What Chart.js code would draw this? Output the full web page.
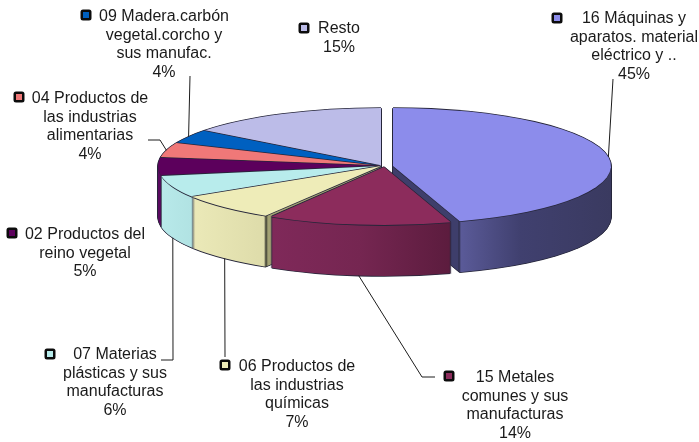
<!DOCTYPE html>
<html>
<head>
<meta charset="utf-8">
<style>
  html, body { margin: 0; padding: 0; background: #fff; }
  canvas { display: block; filter: blur(0.35px); }
</style>
<script src="https://cdn.jsdelivr.net/npm/chart.js@4/dist/chart.umd.min.js"></script>
</head>
<body>
<canvas id="tartaChart" width="699" height="442"></canvas>
<script>
const categorias = ["16 Máquinas", "15 Metales", "06 Productos", "07 Materias", "02 Productos", "04 Productos", "09 Madera", "Resto"];
const valores = [45.0, 13.6, 7.4, 6.2, 5.0, 4.2, 3.9, 14.6];
const colores = ["#8c8ceb", "#8c2c5c", "#eeecb8", "#b8ecec", "#5c005c", "#f07878", "#0060c0", "#bcbce8"];
const textos = [
  ["16 Máquinas y", "aparatos. material", "eléctrico y .."],
  ["15 Metales", "comunes y sus", "manufacturas"],
  ["06 Productos de", "las industrias", "químicas"],
  ["07 Materias", "plásticas y sus", "manufacturas"],
  ["02 Productos del", "reino vegetal"],
  ["04 Productos de", "las industrias", "alimentarias"],
  ["09 Madera.carbón", "vegetal.corcho y", "sus manufac."],
  ["Resto"],
];

// layout: centro de cada porción, elipse y grosor
const centros = [[393, 166], [384, 167], [381, 166], [381, 166], [381, 166], [381, 166], [381, 166], [381, 166]];
const radiosX = [218, 218, 223, 223, 223, 223, 223, 223];
const radioY = 58;
const grosor = 51;
const ordenDibujo = [7, 6, 5, 4, 0, 3, 2, 1];
const oscuro = "#26263a";

// degradado de la pared: [x en pantalla, color]
const paredes = [
  [[393, "#3e3e6b"], [458, "#3e3e6b"], [459, "#2a2a44"], [461, "#5a5a98"], [520, "#40406f"], [611, "#3a3a60"]],
  [[265, "#80295a"], [360, "#752651"], [450, "#5c1c3e"]],
  [[192, "#ebe9b8"], [264, "#dedcaa"], [266, "#3a3a30"], [268, "#a3a274"], [275, "#a3a274"]],
  [[160, "#b8e9ea"], [195, "#b0e2e2"]],
  [[157, "#5a0a60"], [175, "#5a0a60"]],
  [[157, "#c06060"], [180, "#c06060"]],
  [[170, "#004c98"], [210, "#004c98"]],
  [[200, "#9090b8"], [381, "#9090b8"]],
];

// texto: centro x, y de la primera línea, cuadrito, codo de la guía
const posTexto = [[634, 19], [515, 378], [297, 367], [115, 355], [85, 235], [90, 99], [164, 17], [339, 29]];
const posCuadro = [[557, 18], [449, 376], [225, 365], [50, 354], [12, 233], [19, 97], [86, 15], [304, 28]];
const guias = [
  [[613, 79]],
  [[435, 377], [422, 377]],
  [[225, 357]],
  [[161, 360], [173, 360]],
  null,
  [[148, 140], [160, 140]],
  [[190, 76]],
  null,
];
const guiaAbajo = [false, true, true, true, false, false, false, false];

function pintar(ctx, arc, i, relleno, dx, dy) {
  const esc = arc.outerRadius;
  const opts = arc.options;
  ctx.save();
  ctx.translate(centros[i][0] + dx, centros[i][1] + dy);
  ctx.scale(radiosX[i] / esc, radioY / esc);
  ctx.translate(-arc.x, -arc.y);
  arc.options = Object.assign({}, opts, { backgroundColor: relleno, borderWidth: 0 });
  arc.draw(ctx);
  arc.options = opts;
  ctx.restore();
}

function gradientePared(ctx, arc, i) {
  const esc = arc.outerRadius / radiosX[i];
  const stops = paredes[i];
  const x0 = stops[0][0];
  const x1 = stops[stops.length - 1][0];
  const local = (x) => arc.x + (x - centros[i][0]) * esc;
  const g = ctx.createLinearGradient(local(x0), 0, local(x1), 0);
  stops.forEach(([x, c]) => g.addColorStop((x - x0) / (x1 - x0), c));
  return g;
}

const tarta3d = {
  id: "tarta3d",
  beforeDatasetsDraw(chart) {
    const ctx = chart.ctx;
    const arcos = chart.getDatasetMeta(0).data;
    ordenDibujo.forEach((i) => {
      const arc = arcos[i];
      // contorno oscuro
      for (let d = 0; d <= grosor; d += 1) {
        pintar(ctx, arc, i, oscuro, -0.8, d);
        pintar(ctx, arc, i, oscuro, 0.8, d);
      }
      pintar(ctx, arc, i, oscuro, 0, grosor + 0.8);
      pintar(ctx, arc, i, oscuro, 0, -0.8);
      // pared
      const g = gradientePared(ctx, arc, i);
      for (let d = grosor; d >= 1; d -= 1) {
        pintar(ctx, arc, i, g, 0, d);
      }
      // cara superior
      pintar(ctx, arc, i, oscuro, 0, 0.9);
      pintar(ctx, arc, i, colores[i], 0, 0);
    });
    return false;
  },
  afterDraw(chart) {
    const ctx = chart.ctx;
    const arcos = chart.getDatasetMeta(0).data;
    ctx.save();
    // guías
    ctx.strokeStyle = "#1c1c1c";
    ctx.lineWidth = 1;
    arcos.forEach((arc, i) => {
      if (!guias[i]) return;
      const a = (arc.startAngle + arc.endAngle) / 2;
      const x = centros[i][0] + radiosX[i] * Math.cos(a);
      const y = centros[i][1] + radioY * Math.sin(a) + (guiaAbajo[i] ? grosor : 0);
      ctx.beginPath();
      guias[i].forEach(([gx, gy], n) => (n ? ctx.lineTo(gx, gy) : ctx.moveTo(gx, gy)));
      ctx.lineTo(x, y);
      ctx.stroke();
    });
    // etiquetas
    ctx.font = '16px "Liberation Sans"';
    ctx.fillStyle = "#1a1a1a";
    ctx.textAlign = "center";
    ctx.textBaseline = "middle";
    categorias.forEach((c, i) => {
      const lineas = textos[i].concat(Math.round(valores[i]) + "%");
      lineas.forEach((t, n) => ctx.fillText(t, posTexto[i][0], posTexto[i][1] + n * 18.5));
      const [kx, ky] = posCuadro[i];
      ctx.fillStyle = "#0c0c0c";
      ctx.beginPath();
      ctx.roundRect(kx - 5.5, ky - 5.5, 11, 11, 2.5);
      ctx.fill();
      ctx.fillStyle = colores[i];
      ctx.fillRect(kx - 3, ky - 3, 6, 6);
      ctx.fillStyle = "#1a1a1a";
    });
    ctx.restore();
  },
};

new Chart(document.getElementById("tartaChart").getContext("2d"), {
  type: "pie",
  data: {
    labels: categorias,
    datasets: [{ data: valores, backgroundColor: colores, borderWidth: 0 }],
  },
  options: {
    responsive: false,
    animation: false,
    plugins: { legend: { display: false }, tooltip: { enabled: false } },
  },
  plugins: [tarta3d],
});
</script>
</body>
</html>
